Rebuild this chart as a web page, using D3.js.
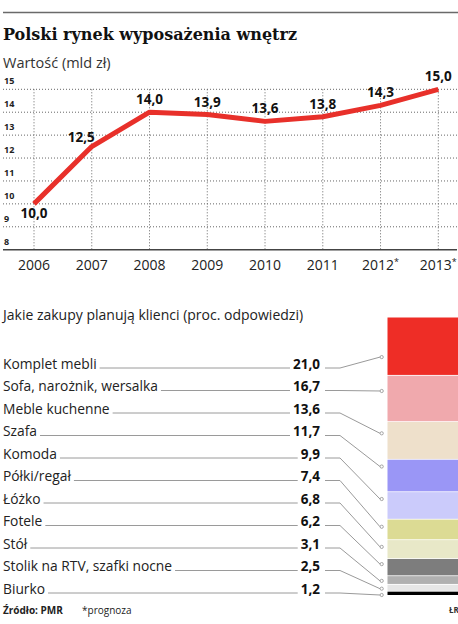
<!DOCTYPE html>
<html lang="pl">
<head>
    <meta charset="UTF-8">
    <title>Polski rynek wyposażenia wnętrz</title>
    <script src="https://cdn.jsdelivr.net/npm/d3@7/dist/d3.min.js"></script>
    <style>
        body { margin: 0; background: #fff; }
        svg { display: block; font-family: 'Open Sans', sans-serif; }
        .grid { stroke: #666; stroke-width: 1; stroke-dasharray: 1 2; }
        .leader { stroke: #9a9a9a; stroke-width: 1; fill: none; }
    </style>
</head>
<body>

<div id="chart"></div>

<script>
    'use strict';

    // Wartość rynku (mld zł)
    const years = ['2006', '2007', '2008', '2009', '2010', '2011', '2012', '2013'];
    const forecast = ['2012', '2013'];
    const marketValue = [10.0, 12.5, 14.0, 13.9, 13.6, 13.8, 14.3, 15.0];
    const yTicks = [8, 9, 10, 11, 12, 13, 14, 15];

    // Jakie zakupy planują klienci (proc. odpowiedzi)
    const items = ['Komplet mebli', 'Sofa, narożnik, wersalka', 'Meble kuchenne', 'Szafa', 'Komoda',
        'Półki/regał', 'Łóżko', 'Fotele', 'Stół', 'Stolik na RTV, szafki nocne', 'Biurko'];
    const shares = [21.0, 16.7, 13.6, 11.7, 9.9, 7.4, 6.8, 6.2, 3.1, 2.5, 1.2];

    const colors = ['#ee2d26', '#f0a9ad', '#eee0cb', '#9a96f6', '#cbcbfb', '#dcdb94',
        '#e8e8c8', '#7d7d7d', '#b0b0b0', '#e6e6e6', '#000000'];
    // where each connector meets its segment (fraction of segment height)
    const anchorAt = [0.68, 0.33, 0.3, 0.21, 0.25, 0.35, 0.36, 0.3, 0.55, 0.57, 1];

    const fmt = v => d3.format('.1f')(v).replace('.', ',');

    const W = 458, H = 624;
    const svg = d3.select('#chart').append('svg').attr('width', W).attr('height', H);

    // top rule + titles
    svg.append('line').attr('x1', 3).attr('x2', W).attr('y1', 12.5).attr('y2', 12.5)
        .attr('stroke', '#6a6a6a').attr('stroke-width', 1.5);

    svg.append('text').attr('x', 3).attr('y', 40)
        .style('font-family', "'DejaVu Serif', serif").style('font-weight', 'bold')
        .style('font-size', '16px').attr('fill', '#111')
        .text('Polski rynek wyposażenia wnętrz');

    svg.append('text').attr('x', 3).attr('y', 68)
        .style('font-size', '14.5px').attr('fill', '#333')
        .text('Wartość (mld zł)');

    // ---- line chart ----
    const x = d3.scalePoint().domain(years).range([34, 438.3]);
    const y = d3.scaleLinear().domain([8, 15]).range([249.7, 89.3]);

    svg.append('g').selectAll('line').data(yTicks.slice(1)).enter().append('line')
        .attr('class', 'grid')
        .attr('x1', 3).attr('x2', W - 1)
        .attr('y1', d => y(d)).attr('y2', d => y(d));

    svg.append('g').selectAll('line').data(years).enter().append('line')
        .attr('class', 'grid')
        .attr('x1', d => x(d)).attr('x2', d => x(d))
        .attr('y1', y(15)).attr('y2', y(8));

    svg.append('line').attr('x1', 3).attr('x2', W - 1)
        .attr('y1', y(8)).attr('y2', y(8))
        .attr('stroke', '#444').attr('stroke-width', 1.5);

    svg.append('g').selectAll('text').data(yTicks).enter().append('text')
        .attr('x', 4).attr('y', d => y(d) - 5)
        .style('font-size', '9px').style('font-weight', 'bold').attr('fill', '#222')
        .text(d => d);

    const yearLabels = svg.append('g').selectAll('text').data(years).enter().append('text')
        .attr('x', d => x(d)).attr('y', 270)
        .attr('text-anchor', 'middle')
        .style('font-size', '14px').attr('fill', '#222');
    yearLabels.append('tspan').text(d => d);
    yearLabels.filter(d => forecast.includes(d)).append('tspan')
        .attr('dy', -5).style('font-size', '9px').text('*');

    const line = d3.line().x((d, i) => x(years[i])).y(d => y(d));
    svg.append('path').datum(marketValue)
        .attr('d', line)
        .attr('fill', 'none').attr('stroke', '#e8302a')
        .attr('stroke-width', 5).attr('stroke-linejoin', 'round');

    svg.append('g').selectAll('text').data(marketValue).enter().append('text')
        .attr('x', (d, i) => i === 1 ? x(years[i]) + 3 : x(years[i]))
        .attr('y', (d, i) => i === 0 ? y(d) + 14 : (i === 1 ? y(d) - 5 : y(d) - 8))
        .attr('text-anchor', (d, i) => i === 1 ? 'end' : 'middle')
        .style('font-size', '13.5px').style('font-weight', 'bold').attr('fill', '#111')
        .text(d => fmt(d));

    // ---- list + stacked bar ----
    svg.append('text').attr('x', 3).attr('y', 320)
        .style('font-size', '14px').attr('fill', '#222')
        .text('Jakie zakupy planują klienci (proc. odpowiedzi)');

    const row = d3.scalePoint().domain(items).range([368.5, 593.5]);
    const valueX = 320;

    const total = d3.sum(shares);
    const stack = d3.scaleLinear().domain([0, total]).range([317.5, 595]);
    let acc = 0;
    const segs = shares.map((v, i) => {
        const s = { item: items[i], value: v, y0: acc, y1: acc + v, color: colors[i] };
        acc += v;
        return s;
    });

    const barX = 387.5;
    svg.append('g').selectAll('rect').data(segs).enter().append('rect')
        .attr('x', barX).attr('width', W - barX)
        .attr('y', d => stack(d.y0))
        .attr('height', (d, i) => Math.max(1, stack(d.y1) - stack(d.y0) - (i < segs.length - 1 ? 0.8 : 0)))
        .attr('fill', d => d.color);

    const rows = svg.append('g').selectAll('g').data(segs).enter().append('g');

    const labels = rows.append('text')
        .attr('x', 3).attr('y', d => row(d.item))
        .style('font-size', '13.8px').attr('fill', '#222')
        .text(d => d.item);

    const values = rows.append('text')
        .attr('x', valueX).attr('y', d => row(d.item))
        .attr('text-anchor', 'end')
        .style('font-size', '13.5px').style('font-weight', 'bold').attr('fill', '#111')
        .text(d => fmt(d.value));

    rows.each(function (d, i) {
        const g = d3.select(this);
        const lw = labels.nodes()[i].getComputedTextLength();
        const vw = values.nodes()[i].getComputedTextLength();
        const ly = row(d.item) - 0.5;
        g.append('line').attr('class', 'leader')
            .attr('x1', 3 + lw + 3).attr('x2', valueX - vw - 3)
            .attr('y1', ly).attr('y2', ly);

        const ay = stack(d.y0) + (stack(d.y1) - stack(d.y0)) * anchorAt[i];
        g.append('path').attr('class', 'leader')
            .attr('d', d3.line()([[valueX + 5, ly], [340, ly], [380, ay]]));
        g.append('circle').attr('cx', 381.7).attr('cy', ay).attr('r', 1.6)
            .attr('fill', '#fff').attr('stroke', '#9a9a9a').attr('stroke-width', 0.9);
    });

    // footer
    svg.append('text').attr('x', 3).attr('y', 614)
        .style('font-size', '10px').style('font-weight', 'bold').attr('fill', '#222')
        .text('Źródło: PMR');
    svg.append('text').attr('x', 82).attr('y', 614)
        .style('font-size', '10px').attr('fill', '#222')
        .text('*prognoza');
    svg.append('text').attr('x', 449).attr('y', 613)
        .style('font-size', '8px').style('font-weight', 'bold').attr('fill', '#333')
        .text('ŁR');
</script>

</body>
</html>
